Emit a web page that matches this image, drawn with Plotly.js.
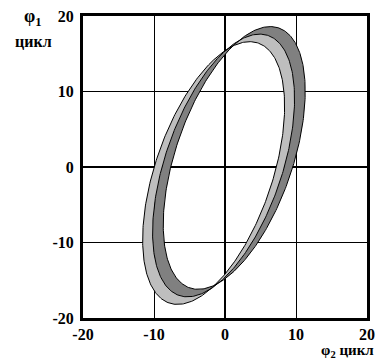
<!DOCTYPE html>
<html><head><meta charset="utf-8">
<script src="https://cdn.plot.ly/plotly-3.0.1.min.js"></script>
<style>body{margin:0;background:#fff}#chart{width:381px;height:360px}</style>
</head><body><div id="chart"></div>
<script>
// Lissajous boundary curves: phi2 = ampPhi2*sin(t) + centerX, phi1 = ampPhi1*sin(t+phase) + centerY
const curveNames = ['outer-left', 'middle', 'outer-right'];
const centerX = [-1.6, -0.2, 1.3];
const centerY = [-0.8, 0.2, 1.2];
const ampPhi2 = [10.0, 10.0, 10.0];
const ampPhi1 = [17.4, 17.4, 17.4];
const phaseDeg = [59.5, 59.5, 59.5];
const tickVals = [-20, -10, 0, 10, 20];
const tickText = ['-20', '-10', '0', '10', '20'];

function curve(i, n) {
  const xs = [], ys = [];
  const d = phaseDeg[i] * Math.PI / 180;
  for (let k = 0; k <= n; k++) {
    const t = 2 * Math.PI * k / n;
    xs.push(centerX[i] + ampPhi2[i] * Math.sin(t));
    ys.push(centerY[i] + ampPhi1[i] * Math.sin(t + d));
  }
  return {xs, ys};
}
const N = 360;
const curves = curveNames.map((_, i) => curve(i, N));

function band(a, b, color) {
  const A = curves[a], B = curves[b];
  return {
    x: A.xs.concat(B.xs.slice().reverse()),
    y: A.ys.concat(B.ys.slice().reverse()),
    mode: 'lines', fill: 'toself', fillcolor: color,
    line: {width: 0, color: color}, hoverinfo: 'skip', showlegend: false
  };
}
const traces = [band(0, 1, '#bebebe'), band(1, 2, '#808080')];
curves.forEach(c => traces.push({
  x: c.xs, y: c.ys, mode: 'lines', line: {color: '#000', width: 1},
  hoverinfo: 'skip', showlegend: false
}));

const tickFont = {family: 'Liberation Serif', size: 16, color: '#000', weight: 'bold'};
const axisBase = {
  range: [-20, 20], tickvals: tickVals, ticktext: tickText, ticks: '',
  showgrid: true, gridcolor: '#000', gridwidth: 1,
  zeroline: true, zerolinecolor: '#000', zerolinewidth: 2.5,
  showline: true, linecolor: '#000', linewidth: 3, mirror: true,
  tickfont: tickFont, fixedrange: true
};
const layout = {
  width: 381, height: 360,
  margin: {l: 83, r: 14, t: 16, b: 42},
  paper_bgcolor: '#fff', plot_bgcolor: '#fff',
  xaxis: Object.assign({}, axisBase, {ticklabelstandoff: 0}),
  yaxis: Object.assign({}, axisBase, {ticklabelstandoff: 3}),
  annotations: [
    {xref: 'paper', yref: 'paper', x: -0.176, y: 0.995, xanchor: 'center', yanchor: 'middle',
     text: 'φ<sub>1</sub>', showarrow: false,
     font: {family: 'Liberation Serif', size: 18, color: '#000', weight: 'bold'}},
    {xref: 'paper', yref: 'paper', x: -0.176, y: 0.915, xanchor: 'center', yanchor: 'middle',
     text: 'цикл', showarrow: false,
     font: {family: 'Liberation Serif', size: 16, color: '#000', weight: 'bold'}},
    {xref: 'paper', yref: 'paper', x: 0.93, y: -0.108, xanchor: 'center', yanchor: 'middle',
     text: 'φ<sub>2</sub> цикл', showarrow: false,
     font: {family: 'Liberation Serif', size: 15, color: '#000', weight: 'bold'}}
  ]
};
Plotly.newPlot('chart', traces, layout, {displayModeBar: false, staticPlot: true});
</script></body></html>
